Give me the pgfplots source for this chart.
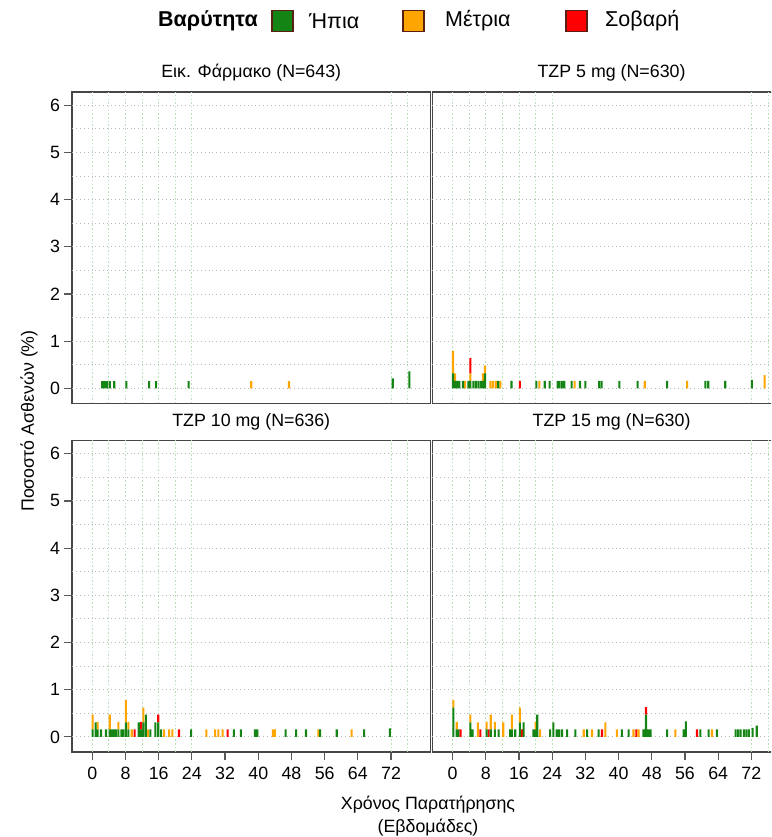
\documentclass[border=0pt]{standalone}
\usepackage{pgfplots}
\pgfplotsset{compat=1.18}
\usepackage{pgfplotstable}
\usepackage{fontspec}
\setmainfont{Liberation Sans}
\newcommand\fs{\fontsize{17.8}{21}\selectfont}
\newcommand\fl{\fontsize{21.5}{24}\selectfont}

\definecolor{mild}{RGB}{20,133,20}
\definecolor{moderate}{RGB}{255,165,0}
\definecolor{severe}{RGB}{255,0,0}
\definecolor{keyedge}{RGB}{90,30,20}
\definecolor{frame}{RGB}{70,70,70}
\definecolor{vgrid}{RGB}{185,222,185}
\definecolor{hgrid}{RGB}{185,185,185}

% Percentage of patients with an event, by onset week and severity
% columns: week, mild (g), moderate (o), severe (r)
\pgfplotstableread{
x g o r
2.4 0.156 0 0
3.0 0.156 0 0
3.5 0.156 0 0
4.2 0.156 0 0
5.3 0.156 0 0
8.2 0.156 0 0
13.7 0.156 0 0
15.4 0.156 0 0
23.2 0.156 0 0
38.3 0 0.156 0
47.4 0 0.156 0
72.4 0.21 0 0
76.4 0.36 0 0
}\placebo

\pgfplotstableread{
x g o r
0.1 0.32 0.47 0
0.6 0.16 0.16 0
1.1 0.16 0 0
1.6 0.16 0 0
2.5 0.16 0 0
3.0 0 0.16 0
3.8 0.16 0 0
4.3 0.16 0.16 0.32
5.0 0.16 0 0
5.6 0.16 0 0
6.2 0.16 0 0
6.8 0.16 0 0
7.3 0.16 0.16 0
7.8 0.32 0.16 0
9.1 0 0.16 0
9.7 0 0.16 0
10.4 0 0.16 0
11.0 0.16 0 0
11.5 0 0.16 0
14.2 0.16 0 0
16.2 0 0 0.16
20.2 0.16 0 0
20.9 0 0.16 0
22.2 0.16 0 0
23.4 0.16 0 0
25.3 0.16 0 0
25.8 0.16 0 0
26.4 0.16 0 0
26.9 0.16 0 0
28.7 0.16 0 0
29.4 0 0.16 0
30.7 0.16 0 0
32.0 0.16 0 0
35.3 0.16 0 0
35.9 0.16 0 0
40.2 0.16 0 0
44.6 0.16 0 0
46.3 0 0.16 0
51.7 0.16 0 0
56.5 0 0.16 0
60.9 0.16 0 0
61.6 0.16 0 0
65.7 0.16 0 0
72.1 0.18 0 0
75.2 0 0.28 0
}\tzpfive

\pgfplotstableread{
x g o r
0.1 0.16 0.31 0
0.8 0.31 0 0
1.3 0.16 0.16 0
2.1 0.16 0 0
3.3 0.16 0 0
4.2 0.16 0.31 0
4.7 0.16 0 0
5.2 0.16 0 0
5.7 0.16 0 0
6.3 0.16 0.16 0
7.0 0.16 0 0
7.5 0.16 0 0
8.1 0.31 0.47 0
8.7 0.16 0.16 0
9.5 0 0.16 0
10.2 0 0 0.16
11.2 0.31 0 0
11.8 0.16 0 0.16
12.3 0.31 0.31 0
12.9 0.47 0 0
13.4 0 0.16 0
14.0 0.16 0 0
15.2 0.31 0 0
15.9 0.31 0 0.16
16.6 0.16 0 0
17.3 0 0.16 0
18.5 0 0.16 0
19.3 0 0.16 0
20.9 0 0 0.16
23.8 0.16 0 0
27.5 0 0.16 0
29.6 0 0.16 0
30.4 0 0.16 0
31.4 0 0.16 0
32.6 0 0 0.16
34.1 0.16 0 0
35.8 0.16 0 0
39.2 0.16 0 0
39.8 0.16 0 0
43.5 0 0.16 0
44.0 0 0.16 0
46.6 0.16 0 0
49.1 0.16 0 0
51.5 0.16 0 0
54.5 0 0.16 0
54.9 0.16 0 0
58.9 0.16 0 0
62.5 0 0.16 0
65.5 0.16 0 0
71.7 0.18 0 0
}\tzpten

\pgfplotstableread{
x g o r
0.2 0.62 0.16 0
1.0 0.16 0.16 0
1.4 0.16 0 0
1.9 0 0 0.16
4.3 0.31 0.16 0
4.8 0.16 0 0
6.1 0 0.31 0
6.7 0 0 0.16
8.2 0.16 0.16 0
8.7 0 0 0.16
9.2 0.16 0.31 0
10.2 0.16 0.16 0
11.1 0.16 0 0
12.2 0 0.31 0
13.9 0.16 0 0
14.3 0.16 0.31 0
15.1 0.16 0 0
16.2 0.31 0.31 0
16.7 0 0 0.16
17.1 0.31 0 0
19.5 0.16 0 0
20.0 0.16 0.16 0
20.4 0.47 0 0
21.1 0 0.16 0
23.5 0.16 0 0
24.3 0.31 0 0
25.1 0.16 0 0
25.7 0.16 0 0
26.4 0.16 0 0
27.6 0.16 0 0
29.6 0.16 0 0
31.6 0 0.16 0
32.4 0.16 0 0
33.6 0 0.16 0
35.2 0.16 0 0
36.0 0 0 0.16
36.8 0 0.31 0
39.6 0 0.16 0
40.8 0.16 0 0
42.4 0.16 0 0
43.6 0 0.16 0
44.3 0 0 0.16
44.8 0 0.16 0
46.0 0.16 0 0
46.6 0.47 0 0.16
47.2 0.16 0 0
47.7 0.16 0 0
51.7 0.16 0 0
53.7 0 0.16 0
55.7 0.16 0 0
56.2 0.33 0 0
58.9 0 0 0.16
59.7 0.16 0 0
61.7 0.16 0 0
62.5 0 0.16 0
63.7 0.16 0 0
68.2 0.16 0 0
68.8 0.16 0 0
69.4 0.16 0 0
70.2 0.16 0 0
70.8 0.16 0 0
71.4 0.16 0 0
72.3 0.19 0 0
73.3 0.24 0 0
}\tzpfifteen

\pgfplotsset{
  panel/.style={
    scale only axis, width=358.5pt, height=311.5pt,
    xmin=-4.89, xmax=81.5, ymin=-0.32, ymax=6.28,
    axis line style={frame, line width=1.5pt},
    % labelled ticks
    xtick={0,8,...,72}, ytick={0,...,6},
    major tick length=8.5pt, tick align=outside,
    xtick pos=bottom, ytick pos=left,
    major tick style={gray!70!black, line width=1.2pt},
    ticklabel style={font=\fs},
    xticklabel style={yshift=-3pt},
    /pgf/number format/assume math mode=true,
    % reference lines without tick marks
    extra x ticks={0,4,...,24,72,76},
    extra y ticks={0,0.5,...,6},
    extra x tick labels={}, extra y tick labels={},
    extra tick style={grid=major, tick style={draw=none}},
    x grid style={vgrid, line width=0.9pt, dash pattern=on 1.5pt off 2.2pt},
    y grid style={hgrid, line width=0.9pt, dash pattern=on 0.9pt off 3pt},
    title style={at={(0.5,1)}, anchor=base, yshift=8pt, font=\fs},
    ybar stacked, bar width=0.5,
  },
}

\newcommand\severitybars[1]{%
  \addplot[fill=mild, draw=none] table[x=x, y=g] {#1};
  \addplot[fill=moderate, draw=none] table[x=x, y=o] {#1};
  \addplot[fill=severe, draw=none] table[x=x, y=r] {#1};
}

\begin{document}
\begin{tikzpicture}
\clip (0pt,0pt) rectangle (771pt,837pt);

% severity legend
\node[font=\fl\bfseries, anchor=west, inner sep=0pt] at (158pt,816pt) {Βαρύτητα};
\draw[fill=mild, draw=keyedge, line width=1.2pt] (272pt,805.5pt) rectangle (293pt,826.5pt);
\node[font=\fl, anchor=west, inner sep=0pt] at (309pt,816pt) {Ήπια};
\draw[fill=moderate, draw=keyedge, line width=1.2pt] (403pt,805.5pt) rectangle (424pt,826.5pt);
\node[font=\fl, anchor=west, inner sep=0pt] at (445pt,816pt) {Μέτρια};
\draw[fill=severe, draw=keyedge, line width=1.2pt] (566pt,805.5pt) rectangle (587pt,826.5pt);
\node[font=\fl, anchor=west, inner sep=0pt] at (605pt,816pt) {Σοβαρή};

\begin{axis}[panel, at={(72pt,433.5pt)}, anchor=south west,
  xtick=\empty, title={Εικ. Φάρμακο (N=643)}]
  \severitybars{\placebo}
\end{axis}

\begin{axis}[panel, at={(432.3pt,433.5pt)}, anchor=south west,
  xtick=\empty, ytick=\empty, title={TZP 5 mg (N=630)}]
  \severitybars{\tzpfive}
\end{axis}

\begin{axis}[panel, at={(72pt,85pt)}, anchor=south west,
  title={TZP 10 mg (N=636)}]
  \severitybars{\tzpten}
\end{axis}

\begin{axis}[panel, at={(432.3pt,85pt)}, anchor=south west,
  ytick=\empty, title={TZP 15 mg (N=630)}]
  \severitybars{\tzpfifteen}
\end{axis}

\node[font=\fs, rotate=90] at (29pt,416pt) {Ποσοστό Ασθενών (\%)};
\node[font=\fs] at (428pt,32pt) {Χρόνος Παρατήρησης};
\node[font=\fs] at (428pt,9pt) {(Εβδομάδες)};
\end{tikzpicture}
\end{document}
